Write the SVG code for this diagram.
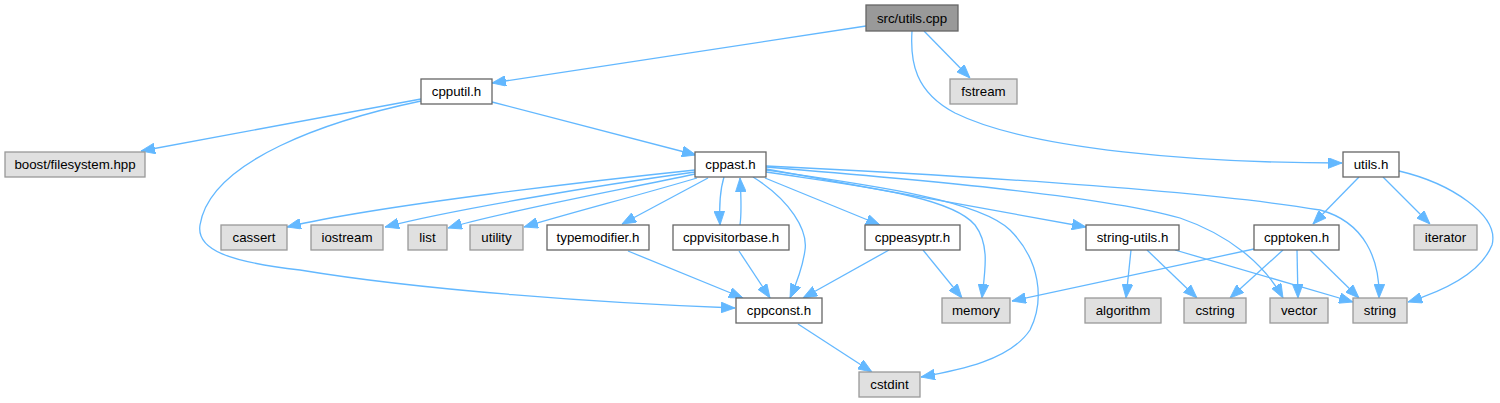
<svg xmlns="http://www.w3.org/2000/svg" width="1500" height="403" viewBox="0 0 1500 403">
<style>
.n rect{fill:#ffffff;stroke:#666666;stroke-width:1.3}
.g rect{fill:#e0e0e0;stroke:#999999;stroke-width:1.3}
.r rect{fill:#999999;stroke:#666666;stroke-width:1.3}
text{font-family:"Liberation Sans",Arial,Helvetica,sans-serif;font-size:13.3px;fill:#000000;text-anchor:middle}
#edges path{fill:none;stroke:#63b8ff;stroke-width:1.3;marker-end:url(#ah)}
</style>
<defs>
<marker id="ah" markerUnits="userSpaceOnUse" markerWidth="14" markerHeight="11" refX="13" refY="5" orient="auto" viewBox="0 0 13 10">
<path d="M0,0 L13,5 L0,10 z" fill="#63b8ff" stroke="#63b8ff" stroke-width="0.8"/>
</marker>
</defs>
<rect width="1500" height="403" fill="#ffffff"/>
<g id="edges">
<path d="M866,26 L492,83"/>
<path d="M924,31 L970,78"/>
<path d="M912,31 C910,62 915,92 955,113 C1030,150 1200,163 1342,163"/>
<path d="M421,99 L141,151"/>
<path d="M492,102 L696,155"/>
<path d="M421,101 C330,120 210,160 200,225 C196,250 230,262 300,270 C420,290 600,303 735,308"/>
<path d="M695,170 C600,180 380,205 287,227"/>
<path d="M695,172 C600,185 450,210 385,227"/>
<path d="M695,174 C620,190 500,212 448,228"/>
<path d="M697,178 C640,195 570,213 524,227"/>
<path d="M708,178 L622,224"/>
<path d="M724,177 C720,190 719,205 720,225"/>
<path d="M740,225 C742,210 741,195 740,178"/>
<path d="M753,177 C790,200 808,230 805,250 C803,265 798,280 790,298"/>
<path d="M765,178 L880,225"/>
<path d="M766,172 C850,185 950,195 975,225 C990,245 985,270 982,298"/>
<path d="M766,170 C870,185 980,200 1010,230 C1040,260 1045,300 1030,330 C1010,360 960,370 921,377"/>
<path d="M766,169 L1086,227"/>
<path d="M766,167 C900,178 1100,195 1180,218 C1230,235 1265,265 1283,298"/>
<path d="M766,166 C950,175 1200,190 1320,210 C1365,222 1380,260 1379,298"/>
<path d="M1131,250 L1126,298"/>
<path d="M1147,250 L1197,298"/>
<path d="M1175,250 L1353,302"/>
<path d="M1254,249 L1012,301"/>
<path d="M1283,250 L1230,298"/>
<path d="M1297,250 L1298,298"/>
<path d="M1310,250 L1359,298"/>
<path d="M1359,177 L1313,224"/>
<path d="M1383,177 L1430,224"/>
<path d="M1399,171 C1450,183 1500,215 1492,245 C1480,275 1440,292 1408,302"/>
<path d="M739,251 L770,298"/>
<path d="M628,251 L743,298"/>
<path d="M889,250 L803,298"/>
<path d="M923,250 L962,298"/>
<path d="M798,324 L872,372"/>
</g>
<g id="node-src-utils-cpp" class="r"><rect x="866" y="5" width="92" height="26"/><text x="912" y="22.5">src/utils.cpp</text></g>
<g id="node-fstream" class="g"><rect x="950" y="79" width="67" height="25"/><text x="983.5" y="96">fstream</text></g>
<g id="node-cpputil-h" class="n"><rect x="421" y="79" width="71" height="25"/><text x="456.5" y="96">cpputil.h</text></g>
<g id="node-boost-filesystem" class="g"><rect x="5" y="152" width="140" height="25"/><text x="75" y="169">boost/filesystem.hpp</text></g>
<g id="node-cppast-h" class="n"><rect x="695" y="152" width="71" height="25"/><text x="730.5" y="169">cppast.h</text></g>
<g id="node-utils-h" class="n"><rect x="1343" y="152" width="56" height="25"/><text x="1371" y="169">utils.h</text></g>
<g id="node-cassert" class="g"><rect x="221" y="225" width="66" height="25"/><text x="254" y="242">cassert</text></g>
<g id="node-iostream" class="g"><rect x="311" y="225" width="72" height="25"/><text x="347" y="242">iostream</text></g>
<g id="node-list" class="g"><rect x="408" y="225" width="39" height="25"/><text x="427.5" y="242">list</text></g>
<g id="node-utility" class="g"><rect x="470" y="225" width="53" height="25"/><text x="496.5" y="242">utility</text></g>
<g id="node-typemodifier-h" class="n"><rect x="547" y="225" width="102" height="25"/><text x="598" y="242">typemodifier.h</text></g>
<g id="node-cppvisitorbase-h" class="n"><rect x="673" y="225" width="116" height="25"/><text x="731" y="242">cppvisitorbase.h</text></g>
<g id="node-cppeasyptr-h" class="n"><rect x="865" y="225" width="95" height="25"/><text x="912.5" y="242">cppeasyptr.h</text></g>
<g id="node-string-utils-h" class="n"><rect x="1086" y="225" width="93" height="25"/><text x="1132.5" y="242">string-utils.h</text></g>
<g id="node-cpptoken-h" class="n"><rect x="1254" y="225" width="85" height="25"/><text x="1296.5" y="242">cpptoken.h</text></g>
<g id="node-iterator" class="g"><rect x="1414" y="225" width="63" height="25"/><text x="1445.5" y="242">iterator</text></g>
<g id="node-cppconst-h" class="n"><rect x="736" y="298" width="86" height="25"/><text x="779" y="315">cppconst.h</text></g>
<g id="node-memory" class="g"><rect x="942" y="298" width="68" height="25"/><text x="976" y="315">memory</text></g>
<g id="node-algorithm" class="g"><rect x="1085" y="298" width="76" height="25"/><text x="1123" y="315">algorithm</text></g>
<g id="node-cstring" class="g"><rect x="1184" y="298" width="62" height="25"/><text x="1215" y="315">cstring</text></g>
<g id="node-vector" class="g"><rect x="1270" y="298" width="58" height="25"/><text x="1299" y="315">vector</text></g>
<g id="node-string" class="g"><rect x="1353" y="298" width="54" height="25"/><text x="1380" y="315">string</text></g>
<g id="node-cstdint" class="g"><rect x="859" y="372" width="61" height="25"/><text x="889.5" y="389">cstdint</text></g>
</svg>
